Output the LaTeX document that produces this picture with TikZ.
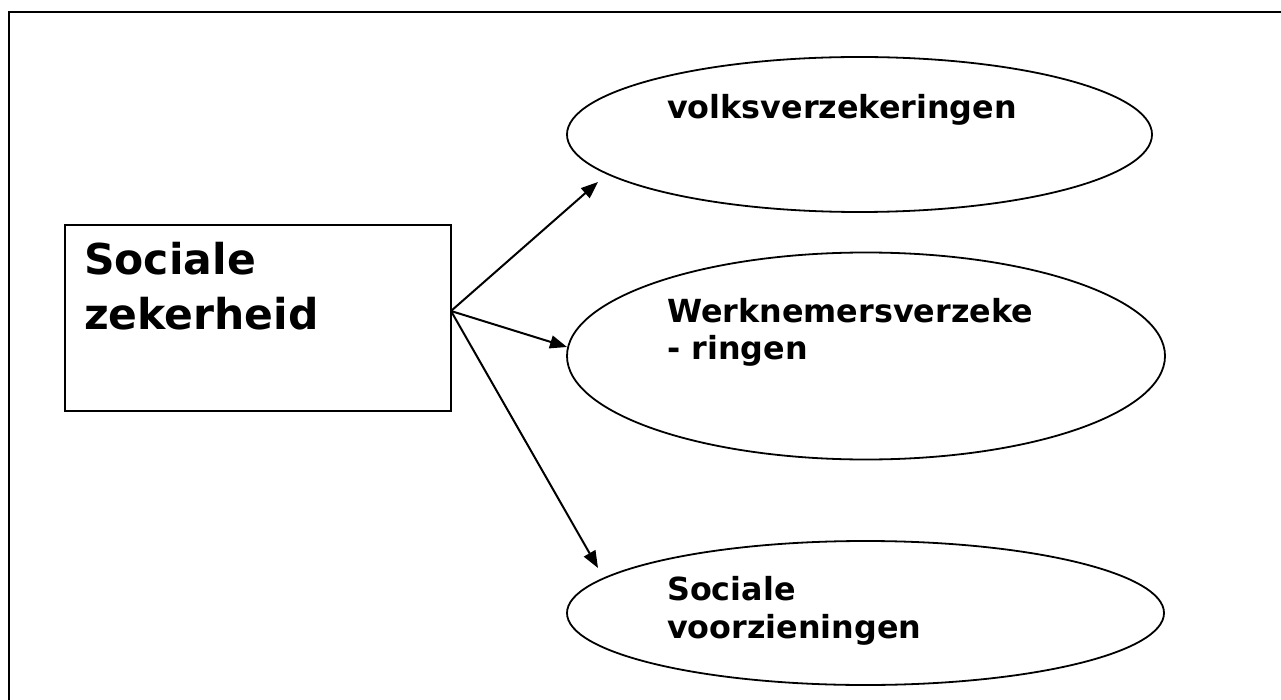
\documentclass[tikz,border=0pt]{standalone}
\usepackage{fontspec}
\setmainfont{DejaVu Sans}
\usetikzlibrary{shapes.geometric,arrows.meta}
\tikzset{
  frameline/.style={line width=2.8pt},
  bigbox/.style={draw, line width=2.2pt, rectangle, inner sep=0pt},
  oval/.style={draw, line width=1.8pt, ellipse, inner sep=0pt},
  conn/.style={line width=2pt, -{Triangle[length=17pt,width=13pt]}},
  bigtxt/.style={anchor=base west, inner sep=0pt, font=\fontsize{42.5}{55}\selectfont\bfseries},
  ovtxt/.style={anchor=base west, inner sep=0pt, font=\fontsize{31.8}{37}\selectfont\bfseries},
}
\begin{document}
\begin{tikzpicture}[x=1pt,y=-1pt]
\useasboundingbox (0,0) rectangle (1281,700);
% page frame (top and left edges)
\draw[frameline] (9,705) -- (9,12) -- (1290,12);
% main box
\node[bigbox, minimum width=386pt, minimum height=186pt] (box) at (258,318) {};
\node[bigtxt] (boxtxt) at (84,275) {\begin{tabular}[t]{@{}l@{}}Sociale\\zekerheid\end{tabular}};
% ellipses
\node[oval, minimum width=585pt, minimum height=155pt] (e1) at (859.5,134.5) {};
\node[oval, minimum width=598pt, minimum height=207pt] (e2) at (866,356) {};
\node[oval, minimum width=597pt, minimum height=144pt] (e3) at (865.5,613) {};
\node[ovtxt] (t1) at (667,119) {volksverzekeringen};
\node[ovtxt] (t2) at (667,322) {\begin{tabular}[t]{@{}l@{}}Werknemersverzeke\\- ringen\end{tabular}};
\node[ovtxt, font=\fontsize{31.8}{38}\selectfont\bfseries] (t3) at (667,600) {\begin{tabular}[t]{@{}l@{}}Sociale\\voorzieningen\end{tabular}};
% connectors
\coordinate (src) at (451,311);
\coordinate (p1) at (598,182);
\coordinate (p2) at (567,347);
\coordinate (p3) at (598,568);
\draw[conn] (src) -- (p1);
\draw[conn] (src) -- (p2);
\draw[conn] (src) -- (p3);
\end{tikzpicture}
\end{document}
